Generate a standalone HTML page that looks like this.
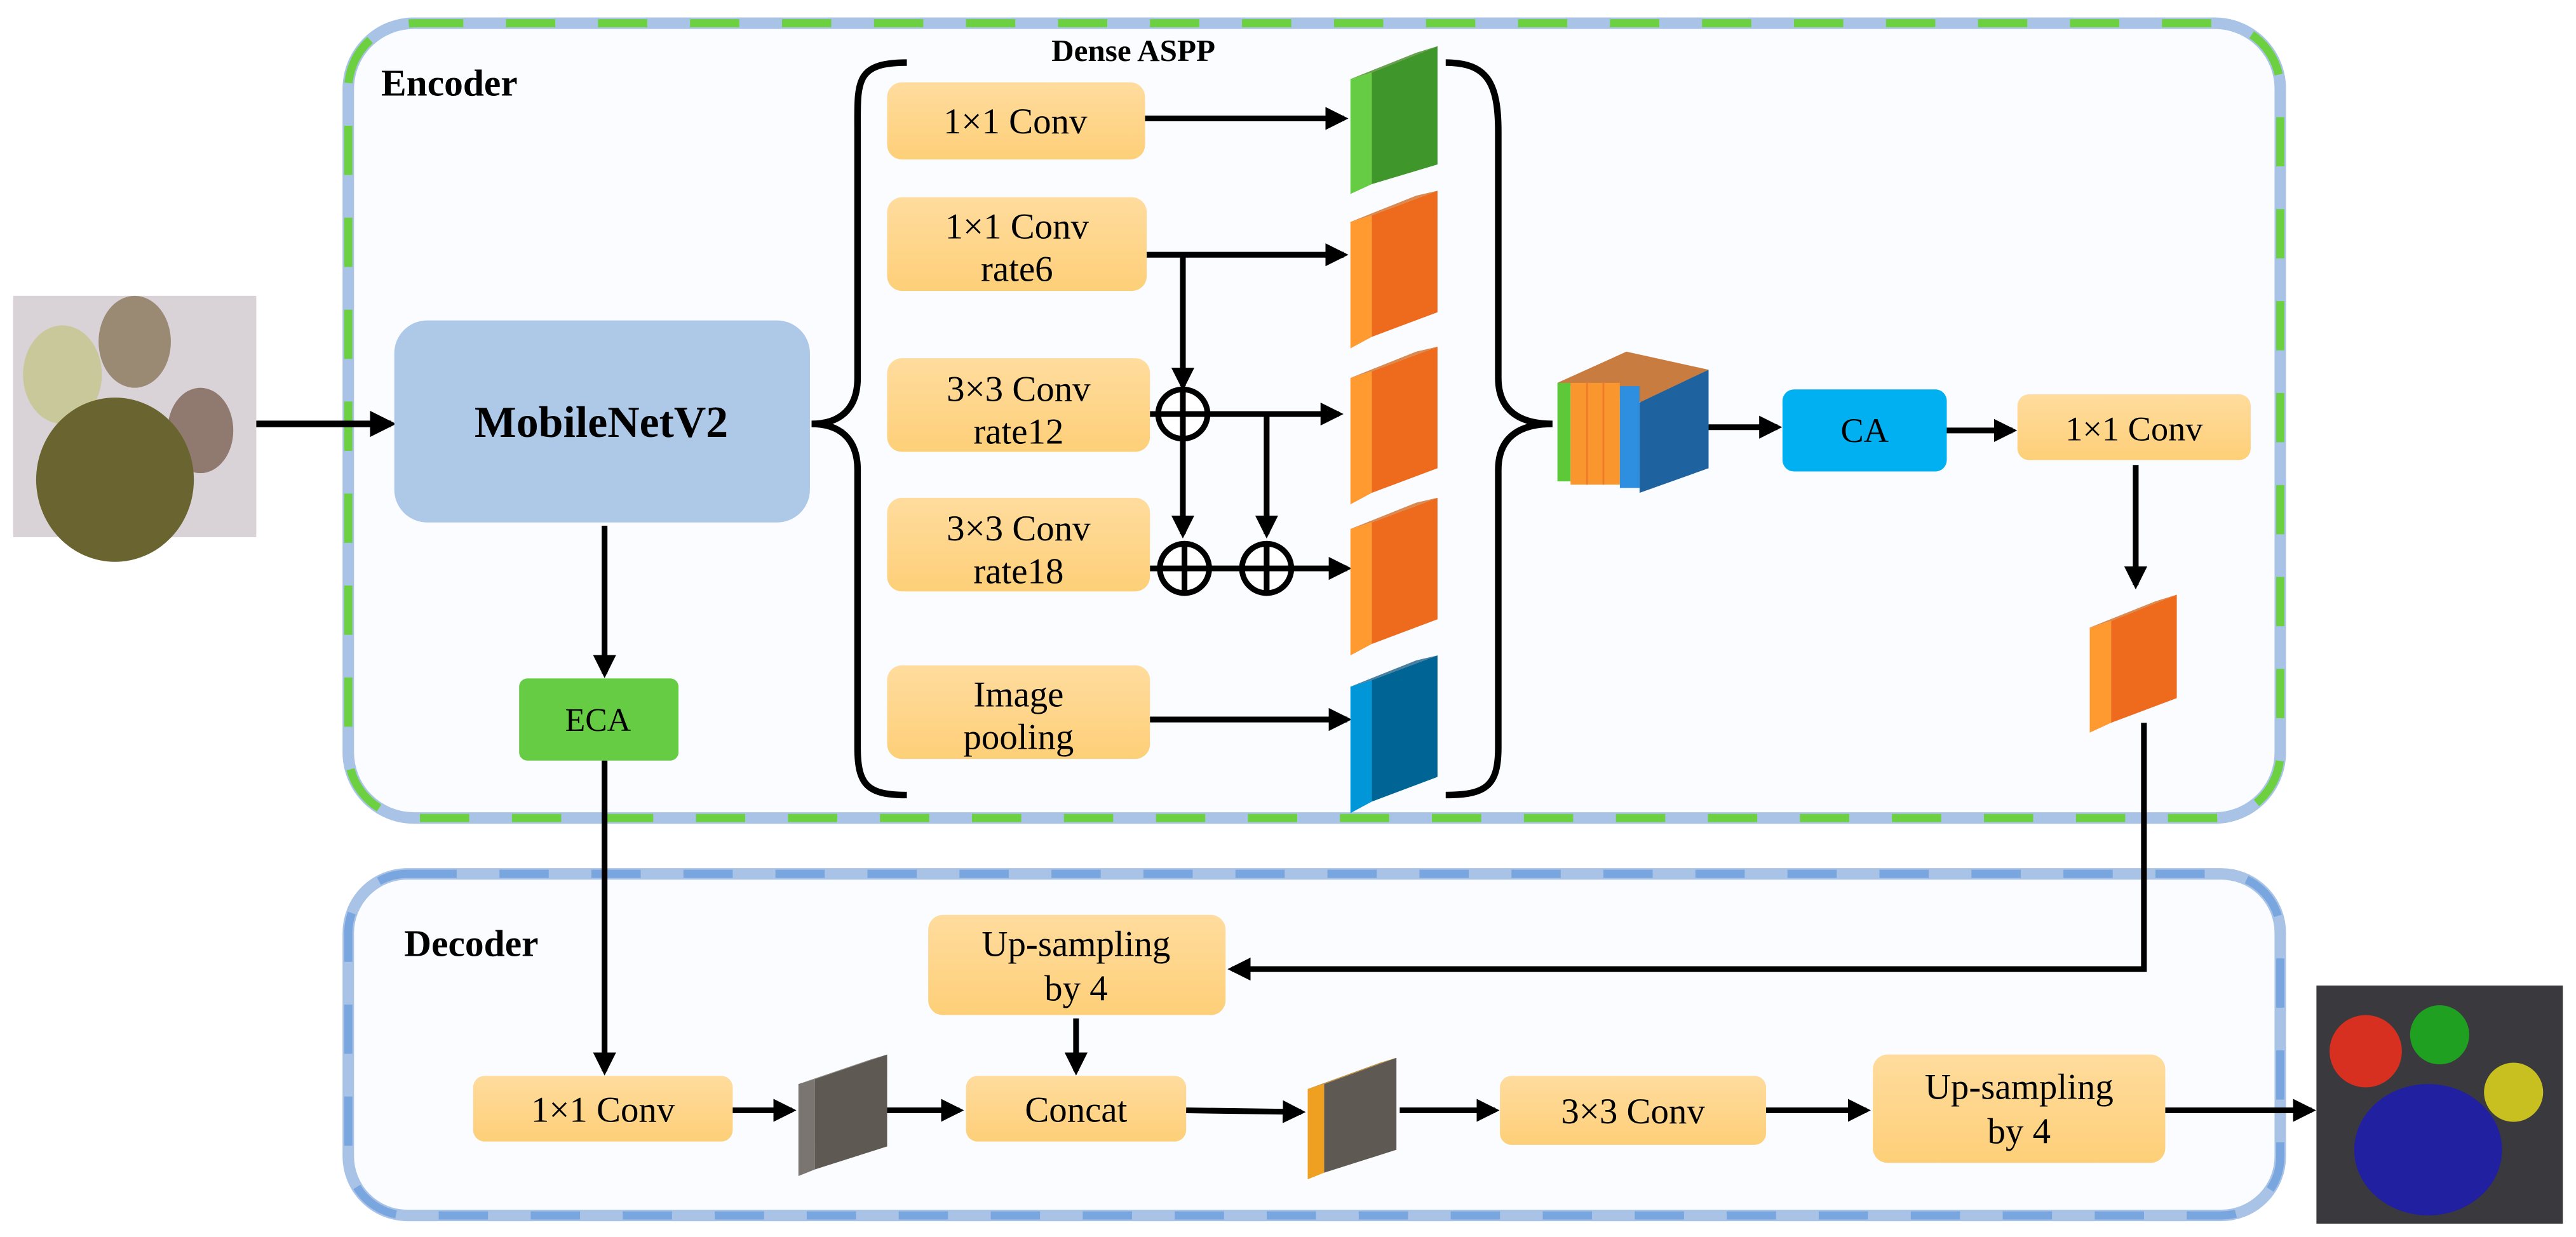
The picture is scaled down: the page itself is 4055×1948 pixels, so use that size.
<!DOCTYPE html>
<html><head><meta charset="utf-8"><style>
html,body{margin:0;padding:0;background:#fff}
svg{display:block}
text{font-family:"Liberation Serif",serif;fill:#000}
</style></head><body>
<svg width="4055" height="1948" viewBox="0 0 1568 753" xmlns="http://www.w3.org/2000/svg">
<defs>
<marker id="a" markerWidth="4" markerHeight="4" refX="3.2" refY="2" orient="auto" markerUnits="strokeWidth"><path d="M0,0 L4,2 L0,4 z" fill="#000"/></marker>
<linearGradient id="og" x1="0" y1="0" x2="0" y2="1"><stop offset="0" stop-color="#ffdc9e"/><stop offset="1" stop-color="#fdcf78"/></linearGradient>
</defs>
<rect x="212" y="14" width="1176" height="484" rx="40" fill="#fbfcff" stroke="#a9c3e6" stroke-width="7"/>
<rect x="212" y="14" width="1176" height="484" rx="40" fill="none" stroke="#6cd040" stroke-width="5" stroke-dasharray="30,26"/>
<rect x="212" y="532" width="1176" height="208" rx="36" fill="#fbfcff" stroke="#a9c3e6" stroke-width="7"/>
<rect x="212" y="532" width="1176" height="208" rx="36" fill="none" stroke="#7aa6e0" stroke-width="5" stroke-dasharray="30,26"/>
<text x="232" y="58" font-size="23" font-weight="bold">Encoder</text>
<text x="246" y="582" font-size="23" font-weight="bold">Decoder</text>
<text x="640" y="37" font-size="19" font-weight="bold">Dense ASPP</text>
<rect x="8" y="180" width="148" height="147" fill="#d9d3d8"/>
<ellipse cx="38" cy="228" rx="24" ry="30" fill="#c8c89a"/>
<ellipse cx="82" cy="208" rx="22" ry="28" fill="#9a8a74"/>
<ellipse cx="122" cy="262" rx="20" ry="26" fill="#907a70"/>
<ellipse cx="70" cy="292" rx="48" ry="50" fill="#6a6530"/>
<line x1="156" y1="258" x2="238" y2="258" stroke="#000" stroke-width="4" marker-end="url(#a)"/>
<rect x="240" y="195" width="253" height="123" rx="20" fill="#aec8e8"/>
<text x="366" y="266" font-size="27" font-weight="bold" text-anchor="middle">MobileNetV2</text>
<path d="M552,38 C520,38 522,50 522,80 L522,230 C522,250 510,258 494,258 C510,258 522,266 522,286 L522,455 C522,478 528,484 552,484" fill="none" stroke="#000" stroke-width="4"/>
<path d="M880,38 C905,38 912,50 912,80 L912,230 C912,250 925,258 945,258 C925,258 912,266 912,286 L912,455 C912,478 905,484 880,484" fill="none" stroke="#000" stroke-width="4"/>
<g font-size="22" text-anchor="middle">
<rect x="540" y="50" width="157" height="47" rx="9" fill="url(#og)"/><text x="618" y="81">1×1 Conv</text>
<rect x="540" y="120" width="158" height="57" rx="9" fill="url(#og)"/><text x="619" y="145">1×1 Conv</text><text x="619" y="171">rate6</text>
<rect x="540" y="218" width="160" height="57" rx="9" fill="url(#og)"/><text x="620" y="244">3×3 Conv</text><text x="620" y="270">rate12</text>
<rect x="540" y="303" width="160" height="57" rx="9" fill="url(#og)"/><text x="620" y="329">3×3 Conv</text><text x="620" y="355">rate18</text>
<rect x="540" y="405" width="160" height="57" rx="9" fill="url(#og)"/><text x="620" y="430">Image</text><text x="620" y="456">pooling</text>
</g>
<g stroke="#000" stroke-width="3.5" fill="none">
<line x1="697" y1="72" x2="818" y2="72" marker-end="url(#a)"/>
<line x1="698" y1="155" x2="818" y2="155" marker-end="url(#a)"/>
<line x1="720" y1="155" x2="720" y2="235" marker-end="url(#a)"/>
<line x1="700" y1="252" x2="815" y2="252" marker-end="url(#a)"/>
<line x1="720" y1="267" x2="720" y2="325" marker-end="url(#a)"/>
<line x1="771" y1="252" x2="771" y2="325" marker-end="url(#a)"/>
<line x1="700" y1="346" x2="820" y2="346" marker-end="url(#a)"/>
<line x1="700" y1="438" x2="820" y2="438" marker-end="url(#a)"/>
<circle cx="720" cy="252" r="15" fill="#fff"/><line x1="705" y1="252" x2="735" y2="252"/><line x1="720" y1="237" x2="720" y2="267"/>
<circle cx="721" cy="346" r="15" fill="#fff"/><line x1="706" y1="346" x2="736" y2="346"/><line x1="721" y1="331" x2="721" y2="361"/>
<circle cx="771" cy="346" r="15" fill="#fff"/><line x1="756" y1="346" x2="786" y2="346"/><line x1="771" y1="331" x2="771" y2="361"/>
</g>
<g>
<polygon points="822,48 835,44 835,112 822,118" fill="#66cc44"/><polygon points="835,44 875,28 875,100 835,112" fill="#3f962a"/><polygon points="822,48 862,32 875,28 835,44" fill="#6a9f50"/>
<polygon points="822,135 835,131 835,205 822,212" fill="#ff9a30"/><polygon points="835,131 875,116 875,190 835,205" fill="#ee6b1e"/><polygon points="822,135 862,119 875,116 835,131" fill="#d88a50"/>
<polygon points="822,230 835,226 835,300 822,307" fill="#ff9a30"/><polygon points="835,226 875,211 875,285 835,300" fill="#ee6b1e"/><polygon points="822,230 862,214 875,211 835,226" fill="#d88a50"/>
<polygon points="822,322 835,318 835,392 822,399" fill="#ff9a30"/><polygon points="835,318 875,303 875,377 835,392" fill="#ee6b1e"/><polygon points="822,322 862,306 875,303 835,318" fill="#d88a50"/>
<polygon points="822,418 835,414 835,488 822,495" fill="#0096d8"/><polygon points="835,414 875,399 875,473 835,488" fill="#006595"/><polygon points="822,418 862,402 875,399 835,414" fill="#4a7fa0"/>
</g>
<polygon points="948,233 990,214 1040,225 1000,245" fill="#c97c40"/>
<rect x="948" y="233" width="8" height="60" fill="#5cc83a"/>
<rect x="956" y="233" width="30" height="62" fill="#fa962e"/>
<line x1="966" y1="233" x2="966" y2="295" stroke="#ee7a2a"/><line x1="976" y1="233" x2="976" y2="295" stroke="#ee7a2a"/>
<rect x="986" y="235" width="12" height="62" fill="#2e8ee0"/>
<polygon points="998,245 1040,225 1040,285 998,300" fill="#1e62a0"/>
<line x1="1040" y1="260" x2="1082" y2="260" stroke="#000" stroke-width="3.5" marker-end="url(#a)"/>
<rect x="1085" y="237" width="100" height="50" rx="7" fill="#00b0f0"/>
<text x="1135" y="269" font-size="21" text-anchor="middle">CA</text>
<line x1="1185" y1="262" x2="1225" y2="262" stroke="#000" stroke-width="3.5" marker-end="url(#a)"/>
<rect x="1228" y="240" width="142" height="40" rx="7" fill="url(#og)"/>
<text x="1299" y="268" font-size="21" text-anchor="middle">1×1 Conv</text>
<line x1="1300" y1="283" x2="1300" y2="356" stroke="#000" stroke-width="3.5" marker-end="url(#a)"/>
<polygon points="1272,382 1285,378 1285,440 1272,446" fill="#ff9a30"/><polygon points="1285,378 1325,362 1325,425 1285,440" fill="#ee6b1e"/><polygon points="1272,382 1312,366 1325,362 1285,378" fill="#d88a50"/>
<polyline points="1305,440 1305,590 750,590" fill="none" stroke="#000" stroke-width="3.5" marker-end="url(#a)"/>
<line x1="368" y1="320" x2="368" y2="410" stroke="#000" stroke-width="3.5" marker-end="url(#a)"/>
<rect x="316" y="413" width="97" height="50" rx="5" fill="#66cc44"/>
<text x="364" y="445" font-size="20" text-anchor="middle">ECA</text>
<line x1="368" y1="463" x2="368" y2="652" stroke="#000" stroke-width="3.5" marker-end="url(#a)"/>
<g font-size="22" text-anchor="middle">
<rect x="288" y="655" width="158" height="40" rx="7" fill="url(#og)"/><text x="367" y="683">1×1 Conv</text>
<rect x="565" y="557" width="181" height="61" rx="9" fill="url(#og)"/><text x="655" y="582">Up-sampling</text><text x="655" y="609">by 4</text>
<rect x="588" y="655" width="134" height="40" rx="7" fill="url(#og)"/><text x="655" y="683">Concat</text>
<rect x="913" y="655" width="162" height="42" rx="7" fill="url(#og)"/><text x="994" y="684">3×3 Conv</text>
<rect x="1140" y="642" width="178" height="66" rx="9" fill="url(#og)"/><text x="1229" y="669">Up-sampling</text><text x="1229" y="696">by 4</text>
</g>
<g stroke="#000" stroke-width="3.5">
<line x1="446" y1="676" x2="482" y2="676" marker-end="url(#a)"/>
<line x1="540" y1="676" x2="584" y2="676" marker-end="url(#a)"/>
<line x1="655" y1="620" x2="655" y2="652" marker-end="url(#a)"/>
<line x1="722" y1="676" x2="792" y2="677" marker-end="url(#a)"/>
<line x1="852" y1="676" x2="910" y2="676" marker-end="url(#a)"/>
<line x1="1075" y1="676" x2="1136" y2="676" marker-end="url(#a)"/>
<line x1="1318" y1="676" x2="1407" y2="676" marker-end="url(#a)"/>
</g>
<polygon points="486,660 496,657 496,712 486,716" fill="#7a7570"/><polygon points="496,657 540,642 540,698 496,712" fill="#5e5952"/><polygon points="486,660 530,645 540,642 496,657" fill="#8a8a80"/>
<polygon points="796,663 806,660 806,714 796,718" fill="#f0a020"/><polygon points="806,660 850,644 850,700 806,714" fill="#5e5952"/><polygon points="796,663 840,647 850,644 806,660" fill="#c09040"/>
<rect x="1410" y="600" width="150" height="145" fill="#3a3a3e"/>
<circle cx="1440" cy="640" r="22" fill="#d83020"/>
<circle cx="1485" cy="630" r="18" fill="#20a020"/>
<circle cx="1530" cy="665" r="18" fill="#c8c020"/>
<ellipse cx="1478" cy="700" rx="45" ry="40" fill="#2020a0"/>
</svg>
</body></html>
